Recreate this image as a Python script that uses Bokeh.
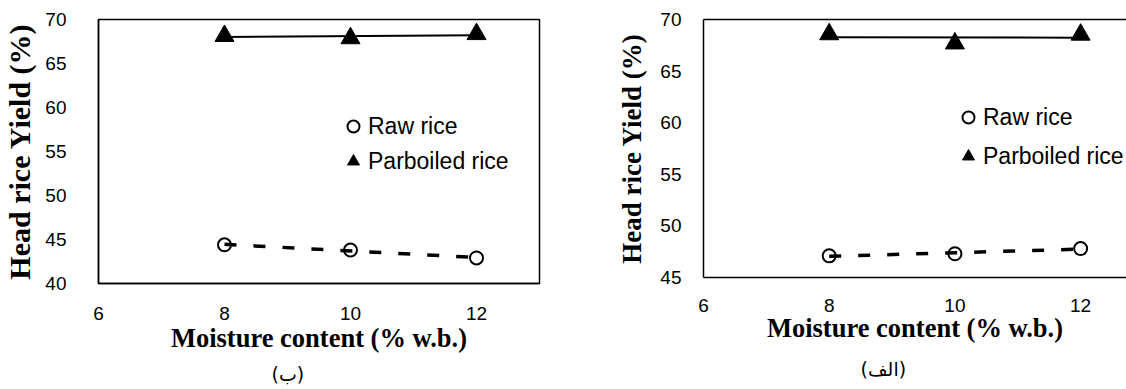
import numpy as np
from bokeh.plotting import figure
from bokeh.models import Range1d, FixedTicker, LinearAxis, Legend, LegendItem, Title
from bokeh.layouts import row, column
from bokeh.embed import file_html
from bokeh.resources import INLINE

# ---- data ----
moisture = [8, 10, 12]
raw_b = [44.4, 43.8, 42.9]
parboiled_b = [68.13, 67.87, 68.34]
raw_alef = [47.1, 47.3, 47.8]
parboiled_alef = [68.57, 67.68, 68.53]
x_ticks = [6, 8, 10, 12]
y_ticks_b = [40, 45, 50, 55, 60, 65, 70]
y_ticks_alef = [45, 50, 55, 60, 65, 70]
series_names = ["Raw rice", "Parboiled rice"]
panel_labels = ["(ب)", "(الف)"]
x_title = "Moisture content (% w.b.)"
y_title = "Head rice Yield (%)"


def trend(x, y):
    k, b = np.polyfit(x, y, 1)
    xs = [min(x), max(x)]
    return xs, [k * v + b for v in xs]


def panel(width, height, xr, yr, yticks, raw, par, label, mb_left, mb_right, mb_bottom,
          y_std, y_lab_std, x_std, x_lab_std, y_title_size, outline,
          leg_loc, leg_spacing, lab_offset, lab_standoff):
    p = figure(width=width, height=height, x_range=Range1d(*xr), y_range=Range1d(*yr),
               output_backend="svg", toolbar_location=None,
               min_border_left=mb_left, min_border_right=mb_right,
               min_border_top=19, min_border_bottom=mb_bottom)
    p.grid.visible = False
    p.background_fill_color = "white"
    p.border_fill_color = "white"

    xax = p.below[0]
    yax = p.left[0]
    for ax, ticks in ((xax, x_ticks), (yax, yticks)):
        ax.ticker = FixedTicker(ticks=ticks)
        ax.major_tick_line_color = None
        ax.minor_tick_line_color = None
        ax.axis_line_color = "black"
        ax.axis_line_width = 1.5
        ax.major_label_text_font = "Liberation Sans"
        ax.major_label_text_font_size = "19px"
        ax.major_label_text_color = "black"
        ax.axis_label_text_font = "Liberation Serif"
        ax.axis_label_text_font_style = "bold"
        ax.axis_label_text_color = "black"
    xax.axis_label = x_title
    yax.axis_label = y_title
    xax.axis_label_text_font_size = "26.5px"
    yax.axis_label_text_font_size = y_title_size
    yax.major_label_standoff = y_std
    yax.axis_label_standoff = y_lab_std
    xax.major_label_standoff = x_std
    xax.axis_label_standoff = x_lab_std

    if outline:
        p.outline_line_color = "black"
        p.outline_line_width = 1.5
    else:
        p.outline_line_color = None
        top = LinearAxis(ticker=FixedTicker(ticks=[]), axis_line_color="black",
                         axis_line_width=1.5, major_tick_line_color=None,
                         minor_tick_line_color=None, major_tick_out=0,
                         major_label_standoff=0, axis_label_standoff=0)
        p.add_layout(top, "above")

    r_raw = p.scatter(moisture, raw, marker="circle", size=13, fill_color="white",
                      line_color="black", line_width=2)
    r_par = p.scatter(moisture, par, marker="triangle", size=19, fill_color="black",
                      line_color="black", line_width=1)
    tx, ty = trend(moisture, raw)
    p.line(tx, ty, line_color="black", line_width=3.5, line_dash="12 17")
    tx, ty = trend(moisture, par)
    p.line(tx, ty, line_color="black", line_width=2)

    legend = Legend(items=[LegendItem(label=series_names[0], renderers=[r_raw]),
                           LegendItem(label=series_names[1], renderers=[r_par])],
                    location=leg_loc, border_line_color=None, background_fill_alpha=0,
                    padding=0, margin=0, spacing=leg_spacing, glyph_width=30,
                    glyph_height=30, label_standoff=0,
                    label_text_font="Liberation Sans", label_text_font_size="23px",
                    label_text_color="black")
    p.add_layout(legend)
    p.add_layout(Title(text=label, align="left", offset=lab_offset, standoff=lab_standoff,
                       text_font="DejaVu Sans", text_font_size="19px",
                       text_font_style="normal", text_color="black"), "below")
    return p


p1 = panel(560, 389, (6, 13), (40, 70), y_ticks_b, raw_b, parboiled_b, panel_labels[0],
           93, 21, 105, 26, 6, 17, 0, "30px", True, (240, 107), 5, 173, 10)
p2 = panel(566, 389, (6, 12.73), (45, 70), y_ticks_alef, raw_alef, parboiled_alef,
           panel_labels[1], 143, 0, 111, 16, 10, 15, -2, "27px", False, (250, 106), 9,
           157, 20)

layout = row(column(p1), column(p2))
open("out.html", "w").write(file_html(layout, INLINE))
